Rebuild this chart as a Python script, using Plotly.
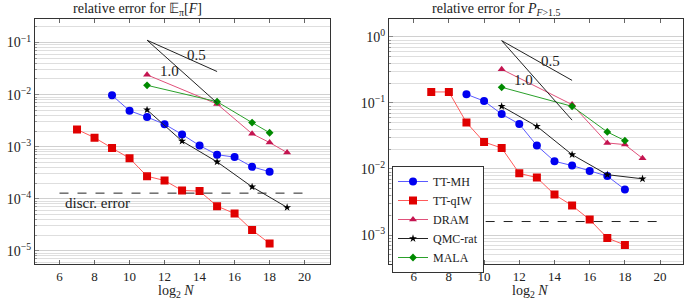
import plotly.graph_objects as go

# ---------------- data ----------------
x_mh = [9, 10, 11, 12, 13, 14, 15, 16, 17, 18]
x_qiw = [7, 8, 9, 10, 11, 12, 13, 14, 15, 16, 17, 18]
x_dram = [11, 15, 17, 18, 19]
x_qmc = [11, 13, 15, 17, 19]
x_mala = [11, 15, 17, 18]

# left: relative error for E_pi[F]
L_mh = [0.0097, 0.0049, 0.0037, 0.0027, 0.00172, 0.00105, 0.0007, 0.00063, 0.00041, 0.00033]
L_qiw = [0.00214, 0.00149, 0.00094, 0.0006, 0.00027, 0.000224, 0.000144, 0.00014, 7.2e-5, 5.2e-5, 2.5e-5, 1.38e-5]
L_dram = [0.024, 0.0066, 0.00177, 0.0012, 0.00077]
L_qmc = [0.0051, 0.00128, 0.00051, 0.000169, 6.8e-5]
L_mala = [0.0151, 0.0073, 0.0029, 0.00185]
L_discr = 1.28e-4

# right: relative error for P_{F>1.5}
R_mh = [0.1355, 0.107, 0.068, 0.048, 0.0226, 0.0131, 0.01127, 0.0093, 0.0078, 0.0049]
R_qiw = [0.147, 0.147, 0.0505, 0.0256, 0.0208, 0.0086, 0.0074, 0.0041, 0.00279, 0.00171, 0.0009, 0.000705]
R_dram = [0.324, 0.0946, 0.0248, 0.0234, 0.0145]
R_qmc = [0.089, 0.0443, 0.0165, 0.0082, 0.0071]
R_mala = [0.173, 0.089, 0.0364, 0.0269]
R_discr = 0.0016

# reference slope triangles: start point and rates
slope_x = [11, 15]
L_slope_start = 0.111
R_slope_start = 0.88
rates = [0.5, 1.0]
discr_x = [6, 20]

names = ["TT-MH", "TT-qIW", "DRAM", "QMC-rat", "MALA"]
x_ticks = [6, 8, 10, 12, 14, 16, 18, 20]
# ---------------- styles ----------------
mk_col = ["#0000f0", "#e00000", "#c41450", "#000000", "#008a00"]
ln_col = ["#5a5aff", "#ff5a5a", "#e0507a", "#222222", "#2aa02a"]
symbols = ["circle", "square", "triangle-up", "star", "diamond"]
sizes = [8, 8, 7, 6, 6]

FONT = "Liberation Serif"
fig = go.Figure()

def add_panel(xa, ya, ys, slope_start, discr, show):
    xs = [x_mh, x_qiw, x_dram, x_qmc, x_mala]
    for i in range(5):
        fig.add_trace(go.Scatter(
            x=xs[i], y=ys[i], name=names[i], mode="lines+markers",
            line=dict(color=ln_col[i], width=1),
            marker=dict(symbol=symbols[i], size=sizes[i], color=mk_col[i],
                        line=dict(width=0)),
            xaxis=xa, yaxis=ya, showlegend=show))
    for r in rates:
        y_end = slope_start * 2 ** (-r * (slope_x[1] - slope_x[0]))
        fig.add_trace(go.Scatter(x=slope_x, y=[slope_start, y_end], mode="lines",
                                 line=dict(color="#222", width=1),
                                 xaxis=xa, yaxis=ya, showlegend=False, hoverinfo="skip"))
    fig.add_trace(go.Scatter(x=discr_x, y=[discr, discr], mode="lines",
                             line=dict(color="#222", width=1, dash="dash"),
                             xaxis=xa, yaxis=ya, showlegend=False, hoverinfo="skip"))

add_panel("x", "y", [L_mh, L_qiw, L_dram, L_qmc, L_mala], L_slope_start, L_discr, False)
add_panel("x2", "y2", [R_mh, R_qiw, R_dram, R_qmc, R_mala], R_slope_start, R_discr, True)

def decade_ticks(lo, hi):
    vals = [10.0 ** e for e in range(lo, hi + 1)]
    txt = ["10<sup>%s</sup>" % str(e).replace("-", "\u2212") for e in range(lo, hi + 1)]
    return vals, txt

lv, lt = decade_ticks(-6, 0)
rv, rt = decade_ticks(-4, 0)

xcommon = dict(tickvals=x_ticks, ticks="inside", ticklen=4, automargin=False,
               showgrid=False, zeroline=False, showline=True, mirror="ticks",
               linecolor="#333", linewidth=1, tickcolor="#666",
               tickfont=dict(family=FONT, size=13, color="#222"))
ycommon = dict(type="log", ticks="inside", ticklen=4, showgrid=True, gridcolor="#d0d0d0",
               gridwidth=1, zeroline=False, showline=True, mirror=True, automargin=False,
               linecolor="#333", linewidth=1, tickcolor="#888",
               minor=dict(dtick="D1", showgrid=True, gridcolor="#dedede", ticks="inside",
                          ticklen=2, tickcolor="#999"),
               tickfont=dict(family=FONT, size=14, color="#222"))

fig.update_layout(
    width=685, height=302, margin=dict(l=0, r=0, t=0, b=0),
    paper_bgcolor="white", plot_bgcolor="white",
    xaxis=dict(domain=[35 / 685, 330 / 685], range=[4.6, 21.45], anchor="y", **xcommon),
    yaxis=dict(domain=[1 - 264.3 / 302, 1 - 19.3 / 302], range=[-5.26, -0.553], anchor="x",
               tickvals=lv, ticktext=lt, **ycommon),
    xaxis2=dict(domain=[389 / 685, 683 / 685], range=[4.6, 21.3], anchor="y2", **xcommon),
    yaxis2=dict(domain=[1 - 264.3 / 302, 1 - 19.3 / 302], range=[-3.444, 0.268], anchor="x2",
                tickvals=rv, ticktext=rt, **ycommon),
    legend=dict(x=392 / 685, y=1 - 166 / 302, xanchor="left", yanchor="top",
                bgcolor="white", bordercolor="#333", borderwidth=1,
                font=dict(family=FONT, size=12, color="#222"),
                tracegroupgap=0, itemwidth=30),
    showlegend=True,
)

ann_font = dict(family=FONT, size=14, color="#222")
big = dict(family=FONT, size=15, color="#222")
def pa(text, x, y, font=ann_font):
    return dict(text=text, x=x / 685, y=1 - y / 302, xref="paper", yref="paper",
                xanchor="center", yanchor="middle", showarrow=False, font=font)
def da(text, x, y, xr, yr, xanchor="center"):
    return dict(text=text, x=x, y=y, xref=xr, yref=yr, xanchor=xanchor, yanchor="middle",
                showarrow=False, font=big)

anns = [
    pa("relative error for \U0001D53C<sub>\u03c0</sub>[<i>F</i>]", 137, 9),
    pa("relative error for <i>P</i><sub><i>F</i>&gt;1.5</sub>", 496, 9),
    pa("log<sub>2</sub> <i>N</i>", 176, 291),
    pa("log<sub>2</sub> <i>N</i>", 530, 291),
    da("0.5", 13.8, -1.235, "x", "y"),
    da("1.0", 12.27, -1.54, "x", "y"),
    da("0.5", 13.78, -0.364, "x2", "y2"),
    da("1.0", 12.24, -0.656, "x2", "y2"),
    da("discr. error", 6.2, -4.09, "x", "y", xanchor="left"),
]
fig.update_layout(annotations=anns)

fig.write_html("out.html", config={"displayModeBar": False},
               post_script="document.body.style.margin='0';document.body.style.overflow='hidden';")
